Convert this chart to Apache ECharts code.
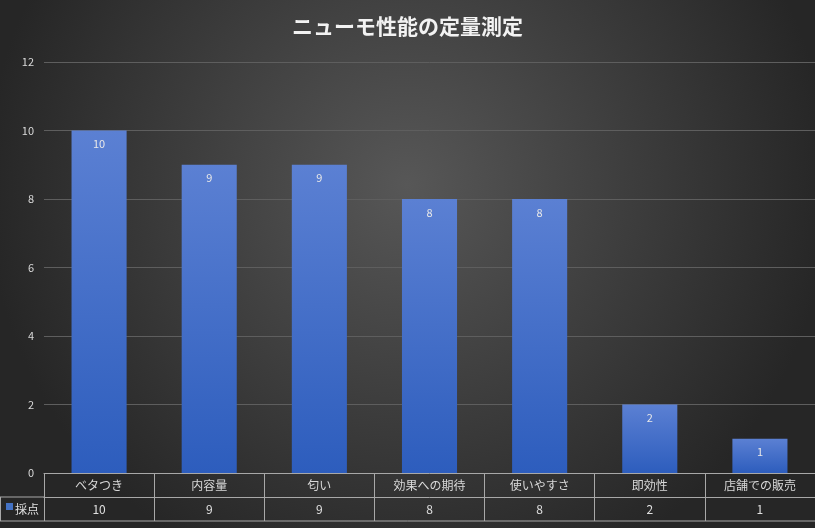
<!DOCTYPE html>
<html><head><meta charset="utf-8">
<script src="https://cdn.jsdelivr.net/npm/echarts@6/dist/echarts.min.js"></script>
<style>html,body{margin:0;padding:0;background:#2a2a2a}#c{width:815px;height:528px}</style>
</head><body><div id="c"></div>
<script>
const categories = ['ベタつき','内容量','匂い','効果への期待','使いやすさ','即効性','店舗での販売'];
const scores = [10,9,9,8,8,2,1];
const yTicks = [0,2,4,6,8,10,12];
const seriesName = '採点';
const lineC = '#a8a8a8';
const chart = echarts.init(document.getElementById('c'));
const font = '"Noto Sans CJK JP", sans-serif';
chart.setOption({
  backgroundColor: {type:'radial',x:0.5,y:0.35,r:0.8,colorStops:[{offset:0,color:'#575757'},{offset:1,color:'#262626'}]},
  title:{text:'ニューモ性能の定量測定',left:'center',top:11,textStyle:{color:'#f2f2f2',fontSize:21,fontWeight:'bold',fontFamily:font}},
  grid:{left:44,right:-10,top:62,bottom:55},
  yAxis:{type:'value',min:0,max:12,interval:2,
    axisLabel:{color:'#d9d9d9',fontSize:11,margin:10,fontFamily:font,formatter:v=>yTicks.includes(v)?String(v):''},
    splitLine:{lineStyle:{color:'#5e5e5e'}},axisLine:{show:false},axisTick:{show:false}},
  xAxis:[
    {type:'category',data:categories,position:'bottom',
     axisLine:{lineStyle:{color:lineC}},axisTick:{show:true,length:24,lineStyle:{color:lineC}},
     axisLabel:{color:'#d9d9d9',fontSize:12,margin:6,fontFamily:font}},
    {type:'category',data:scores.map(String),position:'bottom',offset:24,
     axisLine:{lineStyle:{color:lineC}},axisTick:{show:true,length:24,lineStyle:{color:lineC}},
     axisLabel:{color:'#e0e0e0',fontSize:12,margin:6,fontFamily:font}}
  ],
  series:[{type:'bar',name:seriesName,data:scores,barWidth:'50%',xAxisIndex:0,
    itemStyle:{color:{type:'linear',x:0,y:0,x2:0,y2:1,colorStops:[{offset:0,color:'#5b80d3'},{offset:1,color:'#2d5dbd'}]}},
    label:{show:true,position:'insideTop',color:'#e8e8e8',fontSize:11,distance:8,fontFamily:font}}],
  graphic:[
    {type:'line',shape:{x1:0,y1:497,x2:44,y2:497},style:{stroke:lineC}},
    {type:'line',shape:{x1:0,y1:521,x2:815,y2:521},style:{stroke:lineC}},
    {type:'line',shape:{x1:0.5,y1:497,x2:0.5,y2:521},style:{stroke:lineC}},
    {type:'rect',shape:{x:6,y:503,width:7,height:7},style:{fill:'#4472c4'}},
    {type:'text',x:15,y:509,style:{text:seriesName,fill:'#e0e0e0',font:'12px '+font,verticalAlign:'middle'}}
  ]
});
</script></body></html>
